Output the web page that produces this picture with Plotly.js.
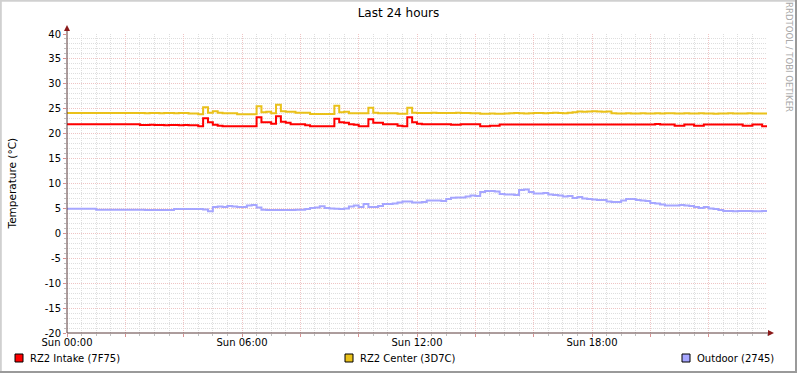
<!DOCTYPE html>
<html>
<head>
<meta charset="utf-8">
<script src="https://cdn.plot.ly/plotly-3.0.1.min.js"></script>
<style>html,body{margin:0;padding:0;background:#fff;}#chart{width:797px;height:373px;}</style>
</head>
<body>
<div id="chart"></div>
<script>
// ---- data ----
const titleText = "Last 24 hours";
const yTitle = "Temperature (°C)";
const credit = "RRDTOOL / TOBI OETIKER";
const stepMinutes = 10; // sampling interval of the series below (00:00 .. 24:00)
const xTickVals = [0, 2, 4, 6, 8, 10, 12, 14, 16, 18, 20, 22];
const xTickText = ["Sun 00:00", "", "", "Sun 06:00", "", "", "Sun 12:00", "", "", "Sun 18:00", "", ""];
const yTickVals = [-20, -15, -10, -5, 0, 5, 10, 15, 20, 25, 30, 35, 40];
const yTickText = ["-20", "-15", "-10", "-5", "0", "5", "10", "15", "20", "25", "30", "35", "40"];
const seriesNames = ["RZ2 Intake (7F75)", "RZ2 Center (3D7C)", "Outdoor (2745)"];
const seriesColors = ["#FF0000", "#EAC11A", "#A6A6FF"];

const intake = [
21.9,21.9,21.9,21.9,21.9,21.9,21.9,21.9,21.9,21.9,21.9,21.9,21.9,21.9,21.9,
21.75,21.75,21.8,21.75,21.75,21.7,21.75,21.75,21.7,21.75,21.7,21.7,
21.5,
23.1,22.3,21.8,21.6,
21.5,21.5,21.5,21.5,21.5,21.5,21.5,
23.3,22.3,22.3,22.0,23.5,22.4,22.2,21.9,21.9,21.9,
21.7,21.5,21.5,21.5,21.5,21.5,
23.0,22.3,22.2,21.9,21.8,21.5,21.5,
22.9,22.2,22.2,21.9,21.9,21.9,21.6,21.5,23.3,22.3,22.0,
21.9,21.9,21.9,21.9,21.9,21.9,
21.8,21.8,
21.9,21.9,21.9,21.9,
21.5,21.5,21.6,21.6,
21.85,21.85,21.85,21.85,21.85,21.85,21.85,21.85,21.85,21.85,21.85,21.85,21.85,21.85,21.85,21.85,
21.85,21.85,21.85,21.85,21.85,21.85,21.85,21.85,21.85,21.85,21.85,21.85,21.85,21.85,21.85,21.85,
21.95,
21.85,21.85,21.85,
21.6,21.6,21.85,21.85,21.6,21.6,
21.85,21.85,21.85,21.85,21.85,21.85,21.85,21.85,
21.6,21.6,21.85,21.85,21.5,21.5
];

const center = [
24.15,24.15,24.15,24.15,24.15,24.15,24.15,24.15,24.15,24.15,24.15,24.15,24.15,
24.15,24.15,24.15,24.1,24.15,24.15,24.1,24.15,24.15,24.1,24.15,24.15,
24.05,24.05,
23.9,
25.3,24.2,24.5,24.2,
24.1,24.1,24.1,
23.9,23.9,23.9,23.9,
25.5,24.3,24.4,24.1,25.8,24.5,
24.4,24.4,
24.2,24.2,24.2,
23.95,23.95,23.95,23.95,23.95,
25.6,24.3,24.4,
24.1,24.1,24.1,24.1,
25.2,24.2,
24.1,24.1,24.1,24.1,
24.0,24.0,
25.2,
24.2,24.15,24.15,24.15,24.2,24.15,24.15,24.15,24.15,24.2,24.15,24.15,24.1,24.1,
24.0,24.0,24.05,24.0,24.0,24.05,
24.1,24.15,24.1,24.05,24.1,24.15,24.15,24.1,24.15,24.2,24.15,24.1,24.2,24.3,
24.45,24.4,24.45,24.5,24.45,24.4,24.45,
24.1,24.05,24.05,24.1,24.05,24.05,24.1,24.05,24.05,24.1,24.05,24.1,24.1,24.05,24.05,24.1,24.05,
24.05,24.1,24.05,24.05,24.0,24.05,24.05,24.1,24.05,24.05,24.05,24.1,24.05,24.05,24.05,24.05
];

const outdoor = [
4.95,4.95,4.95,4.95,4.95,4.95,
4.75,4.75,4.75,4.75,4.75,4.75,4.75,4.75,4.75,4.75,
4.7,4.7,4.7,4.7,4.7,4.7,
4.9,4.9,4.9,4.9,4.9,4.9,
4.8,4.45,5.3,5.4,5.3,5.5,5.4,5.3,5.3,5.6,5.7,5.2,4.75,
4.7,4.7,4.7,4.7,4.7,4.7,
4.75,4.75,4.9,5.1,5.2,5.45,5.1,5.0,4.95,4.9,5.0,5.4,5.6,5.3,5.9,5.3,5.3,5.5,5.9,5.9,
6.0,6.2,6.4,6.4,6.2,6.2,6.3,6.6,6.6,6.6,6.5,6.9,7.15,7.2,7.2,7.4,7.6,7.5,8.3,8.5,
8.5,8.4,7.9,7.8,7.8,7.7,8.7,8.8,8.3,8.0,8.0,8.1,7.8,7.7,7.6,7.4,7.5,7.1,7.3,7.0,
6.9,6.8,6.7,6.7,6.4,6.3,6.3,6.6,6.9,6.9,6.7,6.6,6.5,6.1,6.0,5.8,5.6,5.6,5.6,5.7,
5.6,5.5,5.3,5.1,5.3,5.0,4.9,4.7,
4.5,4.5,4.45,4.5,4.5,4.5,4.45,4.45,4.5,4.6
];

// ---- chart ----
const series = [intake, center, outdoor];
const traces = series.map((vals, k) => ({
  type: "scatter",
  mode: "lines",
  x: vals.map((_, i) => i * stepMinutes / 60),
  y: vals,
  name: seriesNames[k],
  line: {color: seriesColors[k], width: 2, shape: "hv"},
  hoverinfo: "skip"
}));

// pixel helpers relative to plot area (left 67, right 767, top 34, bottom 333)
const PL = 67, PR = 767, PT = 34, PB = 333;
const px = x => (x - PL) / (PR - PL);
const py = y => (PB - y) / (PB - PT);

const axisCol = "#5a3a3a", arrowCol = "#8b1a1a";
const shapes = [
  // frame
  {type:"line", xref:"paper", yref:"paper", x0:px(0), x1:px(797), y0:py(0.8), y1:py(0.8), line:{color:"#d0d0d0", width:2}},
  {type:"line", xref:"paper", yref:"paper", x0:px(0.8), x1:px(0.8), y0:py(0), y1:py(373), line:{color:"#d0d0d0", width:2}},
  {type:"line", xref:"paper", yref:"paper", x0:px(0), x1:px(797), y0:py(372), y1:py(372), line:{color:"#9a9a9a", width:2}},
  {type:"line", xref:"paper", yref:"paper", x0:px(796), x1:px(796), y0:py(0), y1:py(373), line:{color:"#9a9a9a", width:2}},
  // axes
  {type:"line", xref:"paper", yref:"paper", x0:0, x1:0, y0:0, y1:py(27), line:{color:axisCol, width:1}, layer:"above"},
  {type:"line", xref:"paper", yref:"paper", x0:0, x1:px(771), y0:0, y1:0, line:{color:axisCol, width:1}, layer:"above"},
  {type:"path", xref:"paper", yref:"paper", layer:"above", line:{width:0}, fillcolor:arrowCol,
   path:`M ${px(64)} ${py(31)} L ${px(70)} ${py(31)} L ${px(67)} ${py(25)} Z`},
  {type:"path", xref:"paper", yref:"paper", layer:"above", line:{width:0}, fillcolor:arrowCol,
   path:`M ${px(768)} ${py(330)} L ${px(768)} ${py(336)} L ${px(774)} ${py(333)} Z`}
];

// legend boxes
const legendX = [15, 345, 682];
const annotations = [
  {xref:"paper", yref:"paper", x:px(11), y:0.5, text:yTitle, textangle:-90, showarrow:false,
   xanchor:"center", yanchor:"middle", font:{size:10.5, color:"#000"}},
  {xref:"paper", yref:"paper", x:px(789), y:py(57), text:credit, textangle:90, showarrow:false,
   xanchor:"center", yanchor:"middle",
   font:{family:"DejaVu Sans Condensed, Liberation Sans Narrow, DejaVu Sans", size:9.5, color:"#a8a8a8"}}
];
seriesNames.forEach((n, k) => {
  const x0 = legendX[k];
  shapes.push({type:"rect", xref:"paper", yref:"paper", x0:px(x0), x1:px(x0 + 8), y0:py(354), y1:py(362),
    fillcolor:seriesColors[k], line:{color:"#000", width:1}});
  annotations.push({xref:"paper", yref:"paper", x:px(x0 + 13), y:py(358), text:n, showarrow:false,
    xanchor:"left", yanchor:"middle", font:{size:10, color:"#000"}});
});

const majorGrid = "#efc4c4", minorGrid = "#dedede";
const layout = {
  width: 797, height: 373,
  margin: {l: 67, r: 30, t: 34, b: 40, pad: 0},
  paper_bgcolor: "#ffffff", plot_bgcolor: "#ffffff",
  font: {family: "DejaVu Sans", size: 10, color: "#000"},
  showlegend: false,
  title: {text: titleText, font: {size: 12, color: "#000"}, x: 0.5, xanchor: "center", y: 1 - 13 / 373, yanchor: "middle"},
  xaxis: {
    range: [0, 24], tickmode: "array", tickvals: xTickVals, ticktext: xTickText,
    showgrid: true, gridcolor: majorGrid, griddash: "1px,1px", gridwidth: 1,
    ticks: "outside", ticklen: 3, tickcolor: "#d89090", tickfont: {size: 10},
    ticklabelstandoff: -3,
    minor: {tick0: 0, dtick: 0.5, showgrid: true, gridcolor: minorGrid, griddash: "1px,1px",
            ticks: "outside", ticklen: 2, tickcolor: "#c0c0c0"},
    zeroline: false, showline: false, fixedrange: true
  },
  yaxis: {
    range: [-20, 40], tickmode: "array", tickvals: yTickVals, ticktext: yTickText,
    showgrid: true, gridcolor: majorGrid, griddash: "1px,1px", gridwidth: 1,
    ticks: "outside", ticklen: 3, tickcolor: "#d89090", tickfont: {size: 10},
    minor: {tick0: 0, dtick: 1, showgrid: true, gridcolor: minorGrid, griddash: "1px,1px",
            ticks: "outside", ticklen: 2, tickcolor: "#c0c0c0"},
    zeroline: false, showline: false, fixedrange: true
  },
  shapes: shapes,
  annotations: annotations
};

Plotly.newPlot("chart", traces, layout, {displayModeBar: false, staticPlot: true});
</script>
</body>
</html>
